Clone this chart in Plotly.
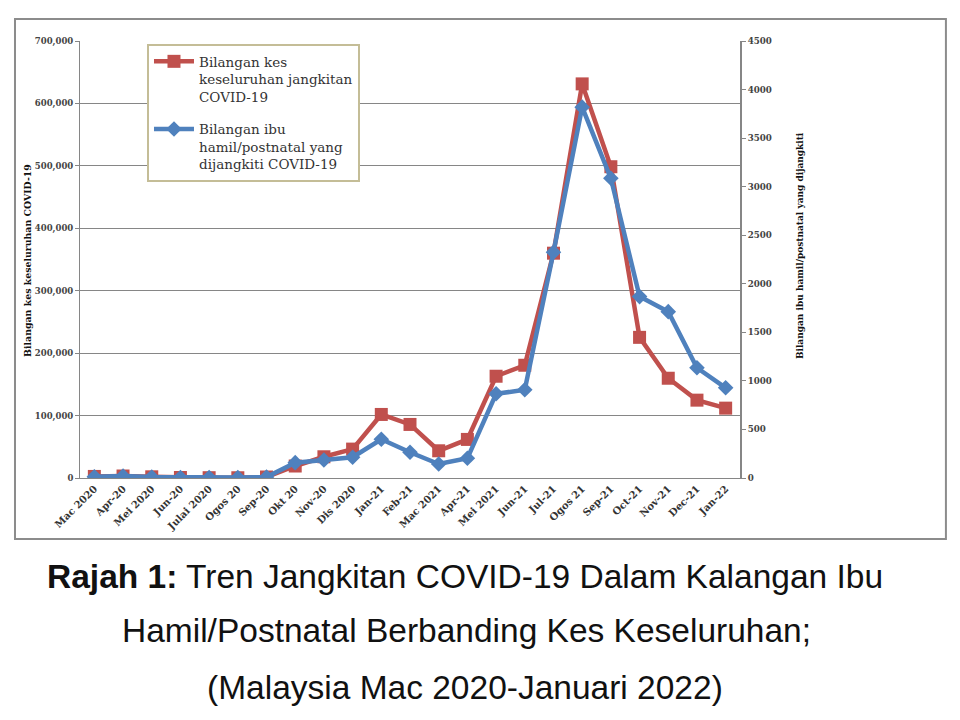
import plotly.graph_objects as go

months = ["Mac 2020", "Apr-20", "Mei 2020", "Jun-20", "Julai 2020", "Ogos 20", "Sep-20",
          "Okt 20", "Nov-20", "Dis 2020", "Jan-21", "Feb-21", "Mac 2021", "Apr-21",
          "Mei 2021", "Jun-21", "Jul-21", "Ogos 21", "Sep-21", "Oct-21", "Nov-21",
          "Dec-21", "Jan-22"]

total_cases = [2500, 3200, 1900, 800, 500, 400, 1600,
               19200, 34000, 46300, 101800, 85800, 43600, 61800,
               163000, 180600, 360100, 631300, 498600, 225300, 159800,
               124700, 111900]

pregnant_cases = [12, 20, 10, 5, 5, 4, 10,
                  158, 186, 214, 399, 265, 144, 203,
                  867, 908, 2325, 3819, 3086, 1868, 1713,
                  1135, 929]

left_ticks = [0, 100000, 200000, 300000, 400000, 500000, 600000, 700000]
left_tick_text = ["0", "100,000", "200,000", "300,000", "400,000", "500,000", "600,000", "700,000"]

RED = "#C0504D"
BLUE = "#4F81BD"
SERIF = "DejaVu Serif"
SANS = "Liberation Sans"

fig = go.Figure()
fig.add_trace(go.Scatter(
    x=months, y=total_cases, mode="lines+markers",
    name="Bilangan kes<br>keseluruhan jangkitan<br>COVID-19",
    line=dict(color=RED, width=4.5),
    marker=dict(symbol="square", size=13, color=RED),
    legendgroup="a", yaxis="y",
))
fig.add_trace(go.Scatter(
    x=months, y=pregnant_cases, mode="lines+markers",
    name="Bilangan ibu<br>hamil/postnatal yang<br>dijangkiti COVID-19",
    line=dict(color=BLUE, width=4.5),
    marker=dict(symbol="diamond", size=12, color=BLUE),
    legendgroup="b", yaxis="y2",
))

fig.update_layout(
    width=952, height=712,
    margin=dict(l=72, r=220, t=33, b=242),
    paper_bgcolor="white", plot_bgcolor="white",
    showlegend=True,
    legend=dict(
        x=0.1015, y=0.993, xanchor="left", yanchor="top",
        bgcolor="white", bordercolor="#C4BD97", borderwidth=2,
        font=dict(family=SERIF, size=13.5, color="#333333"),
        tracegroupgap=12, itemwidth=40, valign="top",
    ),
    xaxis=dict(
        type="category", range=[-0.5, 22.5], tickangle=-45,
        tickfont=dict(family=SERIF, size=10, color="#333333", weight="bold"),
        showgrid=False, showline=True,
        linecolor="#868686", linewidth=1, ticks="", zeroline=False,
    ),
    yaxis=dict(
        range=[0, 700000], tickvals=left_ticks, ticktext=left_tick_text,
        tickfont=dict(family=SERIF, size=8.5, color="#444444", weight="bold"),
        showgrid=True, gridcolor="#868686", gridwidth=1,
        showline=True, linecolor="#868686", linewidth=1, zeroline=False,
        ticks="outside", ticklen=4, tickcolor="#868686",
    ),
    yaxis2=dict(
        overlaying="y", side="right", range=[0, 4500], dtick=500,
        tickfont=dict(family=SERIF, size=8.7, color="#444444", weight="bold"),
        showgrid=False, showline=True, linecolor="#868686", linewidth=2,
        ticks="outside", ticklen=4, tickcolor="#868686", zeroline=False,
    ),
    shapes=[dict(type="rect", xref="paper", yref="paper",
                 x0=-0.0985, x1=1.312, y0=-0.1396, y1=1.0503,
                 line=dict(color="#8C8C8C", width=2), fillcolor="rgba(0,0,0,0)",
                 layer="below")],
    annotations=[
        dict(text="Bilangan kes keseluruhan COVID-19", xref="paper", yref="paper",
             x=-0.0788, y=0.4989, xanchor="center", yanchor="middle",
             textangle=-90, showarrow=False,
             font=dict(family=SERIF, size=9.4, color="#111111", weight="bold")),
        dict(text="Bilangan ibu hamil/postnatal yang dijangkiti", xref="paper", yref="paper",
             x=1.0909, y=0.533, xanchor="center", yanchor="middle",
             textangle=-90, showarrow=False,
             font=dict(family=SERIF, size=9, color="#111111", weight="bold")),
        dict(text="<b>Rajah 1:</b> Tren Jangkitan COVID-19 Dalam Kalangan Ibu",
             xref="paper", yref="paper", x=0.583, y=-0.2243,
             xanchor="center", yanchor="middle", showarrow=False,
             font=dict(family=SANS, size=33.5, color="#111111")),
        dict(text="Hamil/Postnatal Berbanding Kes Keseluruhan;",
             xref="paper", yref="paper", x=0.586, y=-0.3501,
             xanchor="center", yanchor="middle", showarrow=False,
             font=dict(family=SANS, size=33.5, color="#111111")),
        dict(text="(Malaysia Mac 2020-Januari 2022)",
             xref="paper", yref="paper", x=0.583, y=-0.4805,
             xanchor="center", yanchor="middle", showarrow=False,
             font=dict(family=SANS, size=33.5, color="#111111")),
    ],
)

fig.write_html("out.html")
